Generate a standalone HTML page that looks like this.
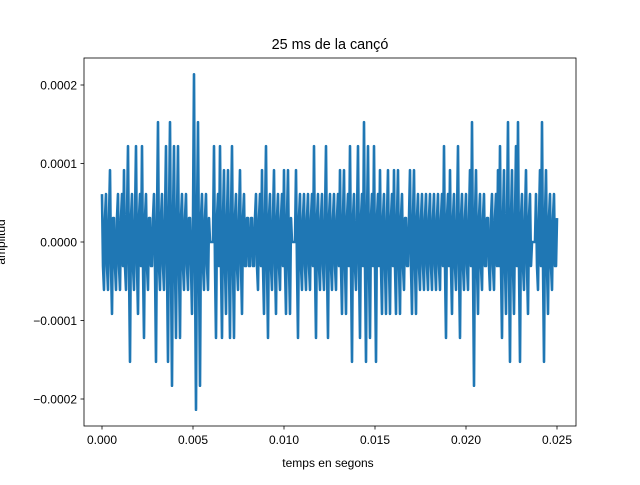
<!DOCTYPE html>
<html><head><meta charset="utf-8"><style>
body{margin:0;background:#fff}
svg text{font-family:"Liberation Sans","DejaVu Sans",sans-serif;fill:#000}
</style></head><body>
<svg id="chart" width="640" height="480" xmlns="http://www.w3.org/2000/svg">
<rect width="640" height="480" fill="#fff"/>
<g id="plot"></g>
<rect x="84" y="58" width="492" height="368" fill="none" stroke="#000" stroke-width="0.8"/>
<g id="xticks"></g><g id="yticks"></g>
<text x="330" y="49" font-size="14.4" text-anchor="middle">25 ms de la cançó</text>
<text x="328" y="467" font-size="12" text-anchor="middle">temps en segons</text>
<text transform="translate(5,242) rotate(-90)" font-size="12" text-anchor="middle">amplitud</text>
</svg>
<script>
const samples = [2,-1,-2,1,2,-1,-2,1,3,-1,-3,1,1,-1,-2,1,2,-1,-2,1,2,-1,3,-1,-2,1,4,-1,-5,1,2,-1,-2,1,4,-1,-3,1,2,-1,4,-1,-4,1,2,-1,-2,1,1,-1,-1,1,2,-1,-5,1,5,-1,-2,1,2,-1,-2,1,4,-1,-5,1,5,-1,-6,1,4,-1,-4,1,4,-1,-4,1,2,-1,-2,1,2,-1,-2,1,1,-1,-3,1,7,-1,-7,1,5,-1,-6,1,2,-1,-2,1,2,-1,-2,1,0,0,0,0,4,-1,-4,1,2,-1,4,-1,-4,1,3,-1,-3,1,3,-1,-4,1,4,-1,-4,1,2,-1,-2,1,3,-1,-3,1,2,-1,-1,1,1,-1,-1,1,1,-1,-1,1,2,-1,-2,1,2,-1,3,-1,-3,1,4,-1,-4,1,2,-1,-2,1,3,-1,-3,1,2,-1,-2,1,2,-1,3,-1,-3,1,3,-1,-3,1,0,0,0,0,3,-1,-4,1,2,-1,-2,1,2,-1,-2,1,2,-1,-2,1,2,-1,4,-1,-4,1,2,-1,-2,1,2,-1,-2,1,4,-1,-4,1,
2,-1,-2,1,2,-1,-2,1,2,-1,3,-1,-3,1,3,-1,-3,1,2,-1,4,-1,-5,1,2,-1,-2,1,4,-1,-4,1,2,-1,5,-1,-5,1,4,-1,-4,1,2,-1,4,-1,-5,1,2,-1,3,-1,-3,1,2,-1,-3,1,3,-1,-3,1,2,-1,3,-1,-3,1,3,-1,-3,1,2,-1,-2,1,1,-1,-1,1,3,-1,-3,1,3,-1,-3,1,2,-1,-2,1,2,-1,-2,1,2,-1,-2,1,2,-1,-2,1,2,-1,-2,1,2,-1,-2,1,2,-1,4,-1,-4,1,2,-1,3,-1,-3,1,2,-1,-2,1,4,-1,-4,1,2,-1,-2,1,2,-1,-2,1,3,-1,5,-1,-6,1,3,-1,-3,1,2,-1,-2,1,2,-1,-1,1,1,-1,-2,1,2,-1,-2,1,2,-1,3,-1,4,-1,-4,1,3,-1,-3,1,5,-1,-5,1,3,-1,-3,1,4,-1,5,-1,-5,1,2,-1,-2,1,3,-1,-3,1,2,-1,0,0,0,0,2,-1,-2,1,3,-1,5,-1,-5,1,3,-1,-3,1,2,-1,-2,1,2,-1,-1,1];
const duration = [0.025];
const unit = [1/32768];
const xTickVals = [0,0.005,0.01,0.015,0.02,0.025];
const xTickLabels = ["0.000","0.005","0.010","0.015","0.020","0.025"];
const yTickVals = [-0.0002,-0.0001,0,0.0001,0.0002];
const yTickLabels = ["\u22120.0002","\u22120.0001","0.0000","0.0001","0.0002"];
const NS="http://www.w3.org/2000/svg";
function xs(t){return 102+t/0.025*455;}
function ys(v){return 242-v*785000;}
const n=samples.length;
let d="";
for(let i=0;i<n;i++){const t=i*duration[0]/(n-1);const v=samples[i]*unit[0];d+=(i?"L":"M")+xs(t).toFixed(2)+" "+ys(v).toFixed(2);}
const p=document.createElementNS(NS,"path");
p.setAttribute("d",d);p.setAttribute("fill","none");p.setAttribute("stroke","#1f77b4");p.setAttribute("stroke-width","2.6");p.setAttribute("stroke-linejoin","round");


document.getElementById("plot").appendChild(p);
const xg=document.getElementById("xticks");
xTickVals.forEach((v,i)=>{const x=xs(v);
const l=document.createElementNS(NS,"line");l.setAttribute("x1",x);l.setAttribute("x2",x);l.setAttribute("y1",426);l.setAttribute("y2",429.5);l.setAttribute("stroke","#000");l.setAttribute("stroke-width","0.8");


xg.appendChild(l);
const t=document.createElementNS(NS,"text");t.setAttribute("x",x);t.setAttribute("y",444);t.setAttribute("font-size","12");t.setAttribute("text-anchor","middle");t.textContent=xTickLabels[i];


xg.appendChild(t);});
const yg=document.getElementById("yticks");
yTickVals.forEach((v,i)=>{const y=ys(v);
const l=document.createElementNS(NS,"line");l.setAttribute("x1",80.5);l.setAttribute("x2",84);l.setAttribute("y1",y);l.setAttribute("y2",y);l.setAttribute("stroke","#000");l.setAttribute("stroke-width","0.8");


yg.appendChild(l);
const t=document.createElementNS(NS,"text");t.setAttribute("x",77);t.setAttribute("y",y+4.5);t.setAttribute("font-size","12");t.setAttribute("text-anchor","end");t.textContent=yTickLabels[i];


yg.appendChild(t);});
</script>
</body></html>
